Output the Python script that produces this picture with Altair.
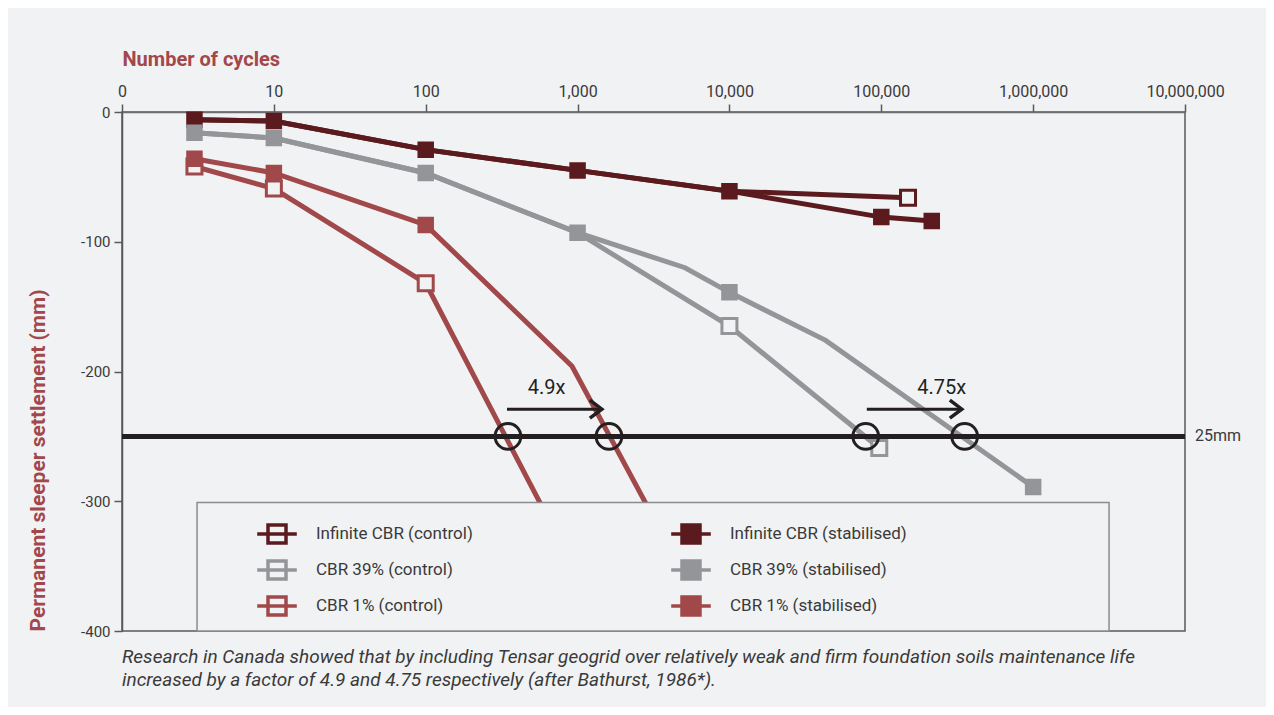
import altair as alt
import pandas as pd

BG = "#f1f2f4"
INK = "#231f20"
TXT = "#3a3a3a"
TITLE_RED = "#a3474b"

# legend order (column-major): controls in column 1, stabilised in column 2
series_names = [
    "Infinite CBR (control)", "CBR 39% (control)", "CBR 1% (control)",
    "Infinite CBR (stabilised)", "CBR 39% (stabilised)", "CBR 1% (stabilised)",
]
series_colors = ["#5b1a1d", "#939598", "#a1484a", "#5b1a1d", "#939598", "#a1484a"]
series_fills = [BG, BG, BG, "#5b1a1d", "#939598", "#a1484a"]

# Infinite CBR
inf_ctrl_cycles = [3, 10, 100, 1000, 10000, 150000]
inf_ctrl_settle = [-6, -7, -29, -45, -61, -66]
inf_ctrl_marked = [0, 0, 0, 0, 0, 1]
inf_stab_cycles = [3, 10, 100, 1000, 10000, 100000, 215000]
inf_stab_settle = [-6, -7, -29, -45, -61, -81, -84]
inf_stab_marked = [1, 1, 1, 1, 1, 1, 1]

# CBR 39%
c39_ctrl_cycles = [3, 10, 100, 1000, 10000, 97000]
c39_ctrl_settle = [-16, -20, -47, -93, -165, -259]
c39_ctrl_marked = [0, 0, 0, 0, 1, 1]
c39_stab_cycles = [3, 10, 100, 1000, 5100, 10000, 43000, 1000000]
c39_stab_settle = [-16, -20, -47, -93, -120, -139, -176, -289]
c39_stab_marked = [1, 1, 1, 1, 0, 1, 0, 1]

# CBR 1%
c1_ctrl_cycles = [3, 10, 100, 760]
c1_ctrl_settle = [-42, -59, -132, -330]
c1_ctrl_marked = [1, 1, 1, 0]
c1_stab_cycles = [3, 10, 100, 920, 3800]
c1_stab_settle = [-36, -47, -87, -196, -330]
c1_stab_marked = [1, 1, 1, 0, 0]

# annotations
limit_settle = [-250]
limit_label = ["25mm"]
circle_cycles = [348, 1610, 79000, 354000]
circle_settle = [-250, -250, -250, -250]
arrow_start = [343, 80300]
arrow_end = [1445, 339000]
arrow_settle = [-229, -229]
factor_cycles = [626, 250000]
factor_settle = [-213, -213]
factor_text = ["4.9x", "4.75x"]
legend_box_x = [3.12, 3.16e6]
legend_box_y = [-301, -400]

x_ticks = [1, 10, 100, 1000, 10000, 100000, 1000000, 10000000]
y_ticks = [-400, -300, -200, -100, 0]

caption = [
    "Research in Canada showed that by including Tensar geogrid over relatively weak and firm foundation soils maintenance life",
    "increased by a factor of 4.9 and 4.75 respectively (after Bathurst, 1986*).",
]

rows = []
for name, kind, cyc, st, mk in [
    ("Infinite CBR (control)", "control", inf_ctrl_cycles, inf_ctrl_settle, inf_ctrl_marked),
    ("Infinite CBR (stabilised)", "stabilised", inf_stab_cycles, inf_stab_settle, inf_stab_marked),
    ("CBR 39% (control)", "control", c39_ctrl_cycles, c39_ctrl_settle, c39_ctrl_marked),
    ("CBR 39% (stabilised)", "stabilised", c39_stab_cycles, c39_stab_settle, c39_stab_marked),
    ("CBR 1% (control)", "control", c1_ctrl_cycles, c1_ctrl_settle, c1_ctrl_marked),
    ("CBR 1% (stabilised)", "stabilised", c1_stab_cycles, c1_stab_settle, c1_stab_marked),
]:
    for c, s, m in zip(cyc, st, mk):
        rows.append({"series": name, "kind": kind, "cycles": c, "settle": s, "marked": m})
df = pd.DataFrame(rows)

xscale = alt.Scale(type="log", domain=[1, 10000000], nice=False)
yscale = alt.Scale(domain=[-400, 0], nice=False, zero=False)
sscale = alt.Scale(domain=series_names, range=series_colors)
fscale = alt.Scale(domain=series_names, range=series_fills)

x_axis = alt.Axis(
    orient="top", values=x_ticks,
    labelExpr="datum.value == 1 ? '0' : format(datum.value, ',')",
    tickSize=8, tickWidth=1.5, tickColor="#58595b", domainColor="#6d6e71", domainWidth=1.5,
    labelFont="Roboto", labelFontSize=16, labelColor=TXT, labelPadding=5,
    labelFlush=False, labelOverlap=False, grid=False,
    title="Number of cycles", titleFont="Roboto", titleFontSize=20, titleFontWeight="bold",
    titleColor=TITLE_RED, titleAnchor="start", titleAlign="left", titleX=0, titleY=-53,
    titleBaseline="middle",
)
y_axis = alt.Axis(
    values=y_ticks, labelExpr="'' + datum.value",
    tickSize=8, tickWidth=1.5, tickColor="#58595b", domainColor="#58595b", domainWidth=1.5,
    labelFont="Roboto", labelFontSize=15, labelColor=TXT, labelPadding=4, grid=False,
    title="Permanent sleeper settlement (mm)", titleFont="Roboto", titleFontSize=21,
    titleFontWeight="bold", titleColor=TITLE_RED, titleAngle=270, titleAlign="left",
    titleBaseline="middle", titleAnchor="start", titleX=-84, titleY=519,
)

legend = alt.Legend(
    orient="none", legendX=134, legendY=411, columns=2, columnPadding=191, rowPadding=4,
    symbolType="M-2.2,0H2.2M-1,-1H1V1H-1Z", symbolSize=324, symbolStrokeWidth=3.5,
    symbolOffset=10, labelOffset=28, labelFont="Roboto", labelFontSize=17, labelColor=TXT,
    labelLimit=400, padding=0, zindex=1, symbolOpacity=1, title=None,
)

base = alt.Chart(df)
X = alt.X("cycles:Q", scale=xscale, axis=x_axis)
Y = alt.Y("settle:Q", scale=yscale, axis=y_axis)
S = alt.Stroke("series:N", scale=sscale, legend=legend)
F = alt.Fill("series:N", scale=fscale, legend=legend)

lines = base.mark_line(strokeWidth=5).encode(x=X, y=Y, stroke=S, detail="series:N")
ctrl_pts = base.transform_filter("datum.marked == 1 && datum.kind == 'control'").mark_point(
    shape="square", size=225, filled=True, strokeWidth=3, opacity=1
).encode(x=X, y=Y, fill=F, stroke=S)
stab_pts = base.transform_filter("datum.marked == 1 && datum.kind == 'stabilised'").mark_point(
    shape="square", size=196, filled=True, strokeWidth=2.5, opacity=1
).encode(x=X, y=Y, fill=F, stroke=S)

limit_df = pd.DataFrame({"settle": limit_settle, "label": limit_label, "cycles": [x_ticks[-1]]})
limit_rule = alt.Chart(limit_df).mark_rule(strokeWidth=5, color=INK).encode(
    y=alt.Y("settle:Q", scale=yscale)
)
limit_text = alt.Chart(limit_df).mark_text(
    align="left", baseline="middle", dx=10, font="Roboto", fontSize=16, color=TXT
).encode(x=alt.X("cycles:Q", scale=xscale), y=alt.Y("settle:Q", scale=yscale), text="label:N")

circ_df = pd.DataFrame({"cycles": circle_cycles, "settle": circle_settle})
circles = alt.Chart(circ_df).mark_point(
    shape="circle", size=660, filled=False, strokeWidth=3, color=INK, opacity=1
).encode(x=alt.X("cycles:Q", scale=xscale), y=alt.Y("settle:Q", scale=yscale))

arr_df = pd.DataFrame({"x1": arrow_start, "x2": arrow_end, "settle": arrow_settle})
arrows = alt.Chart(arr_df).mark_rule(strokeWidth=3, color=INK).encode(
    x=alt.X("x1:Q", scale=xscale), x2="x2:Q", y=alt.Y("settle:Q", scale=yscale)
)
heads = alt.Chart(arr_df).mark_point(
    shape="M-1.33,-1L0,0L-1.33,1", size=324, filled=False, strokeWidth=3.5, color=INK, opacity=1
).encode(x=alt.X("x2:Q", scale=xscale), y=alt.Y("settle:Q", scale=yscale))

fac_df = pd.DataFrame({"cycles": factor_cycles, "settle": factor_settle, "t": factor_text})
factors = alt.Chart(fac_df).mark_text(
    font="Roboto", fontSize=20, color=INK, baseline="middle"
).encode(x=alt.X("cycles:Q", scale=xscale), y=alt.Y("settle:Q", scale=yscale), text="t:N")

box_df = pd.DataFrame({"x0": [legend_box_x[0]], "x1": [legend_box_x[1]],
                       "y0": [legend_box_y[0]], "y1": [legend_box_y[1]]})
box = alt.Chart(box_df).mark_rect(fill=BG, stroke="#8c8c8c", strokeWidth=1.5).encode(
    x=alt.X("x0:Q", scale=xscale), x2="x1:Q", y=alt.Y("y0:Q", scale=yscale), y2="y1:Q"
)

chart = alt.layer(
    lines, ctrl_pts, stab_pts, limit_rule, limit_text, circles, arrows, heads, factors, box
).properties(
    width=1063, height=519,
    padding={"left": 114, "top": 104, "right": 81, "bottom": 76},
    autosize=alt.AutoSizeParams(type="none"),
    background=BG,
    title=alt.TitleParams(
        text=caption, orient="bottom", anchor="start", frame="group", font="Roboto",
        fontSize=19, fontStyle="italic", fontWeight="normal", color=TXT, lineHeight=23,
        offset=9,
    ),
).configure_view(stroke="#58595b", strokeWidth=1.5)

chart.save("out.html", embed_options={"renderer": "svg", "actions": False})
